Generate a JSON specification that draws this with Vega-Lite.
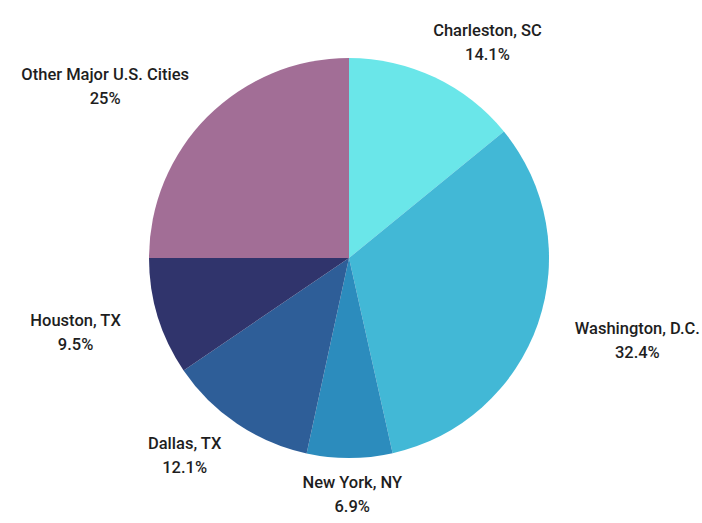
{
  "$schema": "https://vega.github.io/schema/vega-lite/v6.json",
  "width": 698,
  "height": 516,
  "autosize": "none",
  "padding": {"left": 0, "top": 0, "right": 4, "bottom": 7},
  "background": "white",
  "config": {"view": {"stroke": null}},
  "data": {
    "values": [
      {"i": 1, "city": "Charleston, SC", "share": 14.1},
      {"i": 2, "city": "Washington, D.C.", "share": 32.4},
      {"i": 3, "city": "New York, NY", "share": 6.9},
      {"i": 4, "city": "Dallas, TX", "share": 12.1},
      {"i": 5, "city": "Houston, TX", "share": 9.5},
      {"i": 6, "city": "Other Major U.S. Cities", "share": 25}
    ]
  },
  "transform": [
    {"calculate": "datum.city + '\\n' + datum.share + '%'", "as": "label"}
  ],
  "encoding": {
    "theta": {"field": "share", "type": "quantitative", "stack": true},
    "order": {"field": "i", "type": "quantitative"}
  },
  "layer": [
    {
      "mark": {"type": "arc", "outerRadius": 200},
      "encoding": {
        "color": {
          "field": "city",
          "type": "nominal",
          "legend": null,
          "scale": {
            "domain": ["Charleston, SC", "Washington, D.C.", "New York, NY", "Dallas, TX", "Houston, TX", "Other Major U.S. Cities"],
            "range": ["#6AE6E9", "#42B8D6", "#2C8CBD", "#2E5E98", "#30346C", "#A26E96"]
          }
        }
      }
    },
    {
      "mark": {
        "type": "text",
        "radius": 215,
        "font": "Roboto",
        "fontSize": 16.5,
        "fontWeight": 500,
        "lineHeight": 24,
        "lineBreak": "\n",
        "color": "#1e1e1e",
        "align": "center",
        "baseline": "middle",
        "dx": {"expr": "30 * sin((datum.share_start + datum.share_end) / 100 * PI) + 3.65 * length(datum.city) * (sin((datum.share_start + datum.share_end) / 100 * PI) < 0 ? -1 : 1) * sqrt(abs(sin((datum.share_start + datum.share_end) / 100 * PI)))"},
        "dy": {"expr": "-12 - 22 * (cos((datum.share_start + datum.share_end) / 100 * PI) < 0 ? -1 : 1) * sqrt(abs(cos((datum.share_start + datum.share_end) / 100 * PI)))"}
      },
      "encoding": {
        "text": {"field": "label", "type": "nominal"}
      }
    }
  ]
}
